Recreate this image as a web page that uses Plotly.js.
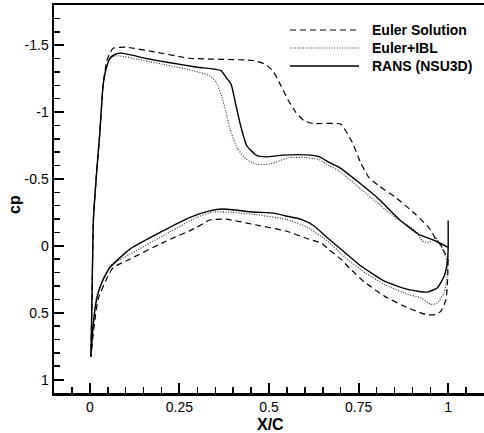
<!DOCTYPE html>
<html>
<head>
<meta charset="utf-8">
<script src="https://cdn.plot.ly/plotly-3.0.1.min.js"></script>
<style>html,body{margin:0;padding:0;background:#fff;}#chart{width:484px;height:433px;}</style>
</head>
<body>
<div id="chart"></div>
<script>
// ---- Data (x/c and cp) ----
// Euler Solution (dashed)
const eulerUpperX  = [0.003,0.006,0.010,0.019,0.028,0.037,0.047,0.056,0.065,0.100,0.186,0.278,0.455,0.487,0.510,0.529,0.552,0.575,0.598,0.622,0.700,0.714,0.733,0.756,0.779,0.807,0.854,0.909,0.946,0.965,0.983,0.997];
const eulerUpperCp = [0.83,0.40,-0.20,-0.55,-0.85,-1.20,-1.38,-1.44,-1.477,-1.485,-1.447,-1.402,-1.385,-1.36,-1.31,-1.22,-1.097,-0.998,-0.935,-0.915,-0.91,-0.86,-0.77,-0.62,-0.51,-0.448,-0.36,-0.236,-0.136,-0.055,0.01,0.09];
const eulerLowerX  = [0.003,0.012,0.023,0.046,0.065,0.111,0.204,0.297,0.334,0.380,0.455,0.547,0.612,0.646,0.668,0.701,0.724,0.766,0.822,0.887,0.940,0.965,0.980,0.994,0.998,1.000];
const eulerLowerCp = [0.83,0.60,0.40,0.251,0.163,0.10,-0.024,-0.136,-0.193,-0.199,-0.161,-0.111,-0.049,-0.02,0.03,0.10,0.165,0.27,0.376,0.463,0.515,0.513,0.488,0.40,0.276,0.10];

// Euler+IBL (dotted)
const iblUpperX  = [0.003,0.006,0.010,0.019,0.028,0.037,0.045,0.058,0.079,0.150,0.213,0.278,0.334,0.353,0.366,0.380,0.394,0.413,0.436,0.464,0.501,0.529,0.557,0.603,0.640,0.668,0.696,0.751,0.807,0.863,0.890,0.909,0.928,0.946,0.965,0.980,0.994,0.999];
const iblUpperCp = [0.83,0.40,-0.20,-0.55,-0.85,-1.20,-1.32,-1.41,-1.42,-1.385,-1.352,-1.315,-1.272,-1.222,-1.135,-0.998,-0.848,-0.723,-0.648,-0.61,-0.61,-0.635,-0.66,-0.66,-0.645,-0.598,-0.56,-0.436,-0.311,-0.19,-0.148,-0.111,-0.036,-0.024,-0.061,0.0,0.088,0.15];
const iblLowerX  = [0.003,0.009,0.019,0.056,0.111,0.204,0.297,0.343,0.380,0.455,0.547,0.603,0.659,0.714,0.770,0.822,0.887,0.924,0.952,0.970,0.989,0.997,0.999];
const iblLowerCp = [0.83,0.60,0.376,0.151,0.064,-0.074,-0.211,-0.253,-0.253,-0.236,-0.198,-0.145,-0.045,0.09,0.205,0.288,0.363,0.388,0.438,0.426,0.35,0.226,0.076];

// RANS (NSU3D) (solid)
const ransUpperX  = [0.003,0.006,0.010,0.019,0.028,0.037,0.045,0.056,0.070,0.088,0.158,0.220,0.300,0.366,0.380,0.394,0.408,0.422,0.438,0.464,0.492,0.538,0.603,0.640,0.668,0.696,0.751,0.807,0.863,0.918,0.965,0.998];
const ransUpperCp = [0.83,0.40,-0.20,-0.55,-0.85,-1.20,-1.32,-1.40,-1.43,-1.44,-1.40,-1.37,-1.335,-1.31,-1.26,-1.21,-1.047,-0.885,-0.748,-0.678,-0.665,-0.678,-0.68,-0.667,-0.623,-0.586,-0.473,-0.348,-0.199,-0.086,-0.036,0.01];
const ransLowerX  = [0.003,0.009,0.019,0.033,0.056,0.111,0.204,0.278,0.334,0.370,0.455,0.516,0.547,0.590,0.625,0.659,0.701,0.757,0.822,0.887,0.942,0.970,0.989,0.998,1.000,1.000];
const ransLowerCp = [0.83,0.60,0.40,0.276,0.163,0.026,-0.111,-0.211,-0.261,-0.275,-0.253,-0.243,-0.223,-0.198,-0.15,-0.07,0.026,0.151,0.264,0.326,0.346,0.313,0.226,0.114,0.013,-0.19];

const seriesNames = ["Euler Solution", "Euler+IBL", "RANS (NSU3D)"];
const xTickVals = [0, 0.25, 0.5, 0.75, 1];
const xTickText = ["0", "0.25", "0.5", "0.75", "1"];
const yTickVals = [-1.5, -1, -0.5, 0, 0.5, 1];
const yTickText = ["-1.5", "-1", "-0.5", "0", "0.5", "1"];

// ---- Build closed loops: TE lower -> LE -> TE upper ----
function loop(ux, uc, lx, lc) {
  return {
    x: lx.slice().reverse().concat(ux),
    y: lc.slice().reverse().concat(uc)
  };
}
const styles = [
  {color: "#000", width: 1.2, dash: "6px,4px"},
  {color: "#333", width: 1.2, dash: "1px,1.6px"},
  {color: "#000", width: 1.4, dash: "solid"}
];
const loops = [
  loop(eulerUpperX, eulerUpperCp, eulerLowerX, eulerLowerCp),
  loop(iblUpperX, iblUpperCp, iblLowerX, iblLowerCp),
  loop(ransUpperX, ransUpperCp, ransLowerX, ransLowerCp)
];
const traces = loops.map((d, i) => ({
  type: "scatter", mode: "lines", x: d.x, y: d.y, name: seriesNames[i],
  line: Object.assign({shape: "spline", smoothing: 0.5}, styles[i]),
  hoverinfo: "skip", showlegend: false
}));

// ---- Geometry helpers (pixel -> paper) ----
const W = 484, H = 433, M = {l: 54, r: 0, t: 5, b: 40};
const PW = W - M.l - M.r, PH = H - M.t - M.b;
const px = v => (v - M.l) / PW;
const py = v => (H - M.b - v) / PH;

const font = {family: "Liberation Sans, Arial, sans-serif", size: 14, color: "#000"};
const shapes = [], annotations = [];
const rowsY = [30, 48, 66];
seriesNames.forEach((n, i) => {
  shapes.push({type: "line", xref: "paper", yref: "paper",
    x0: px(290), x1: px(359), y0: py(rowsY[i]), y1: py(rowsY[i]),
    line: {color: styles[i].color, width: styles[i].width, dash: styles[i].dash}});
  annotations.push({xref: "paper", yref: "paper", x: px(370), y: py(rowsY[i]),
    xanchor: "left", yanchor: "middle", showarrow: false, text: "<b>" + n + "</b>",
    font: font});
});
annotations.push({xref: "paper", yref: "paper", x: px(270), y: py(424), xanchor: "center",
  yanchor: "middle", showarrow: false, text: "<b>X/C</b>", font: Object.assign({}, font, {size: 16})});
annotations.push({xref: "paper", yref: "paper", x: px(15), y: py(205), xanchor: "center",
  yanchor: "middle", showarrow: false, textangle: -90, text: "<b>cp</b>", font: Object.assign({}, font, {size: 16})});

const layout = {
  width: W, height: H, margin: M, showlegend: false,
  paper_bgcolor: "#fff", plot_bgcolor: "#fff", font: font,
  xaxis: {range: [-0.1, 1.1], showgrid: false, zeroline: false,
    showline: true, mirror: true, linecolor: "#000", linewidth: 2.5,
    ticks: "inside", ticklen: 10, tickwidth: 2, tickcolor: "#000",
    tickvals: xTickVals, ticktext: xTickText, tickfont: font,
    minor: {dtick: 0.05, tick0: 0, ticks: "inside", ticklen: 6, tickwidth: 1.5, tickcolor: "#000", showgrid: false}},
  yaxis: {range: [1.1, -1.8], showgrid: false, zeroline: false,
    showline: true, mirror: false, linecolor: "#000", linewidth: 2.5,
    ticks: "inside", ticklen: 10, tickwidth: 2, tickcolor: "#000",
    tickvals: yTickVals, ticktext: yTickText, tickfont: font,
    minor: {dtick: 0.1, tick0: 0, ticks: "inside", ticklen: 6, tickwidth: 1.5, tickcolor: "#000", showgrid: false}},
  shapes: shapes, annotations: annotations
};
Plotly.newPlot("chart", traces, layout, {staticPlot: true, displayModeBar: false});
</script>
</body>
</html>
